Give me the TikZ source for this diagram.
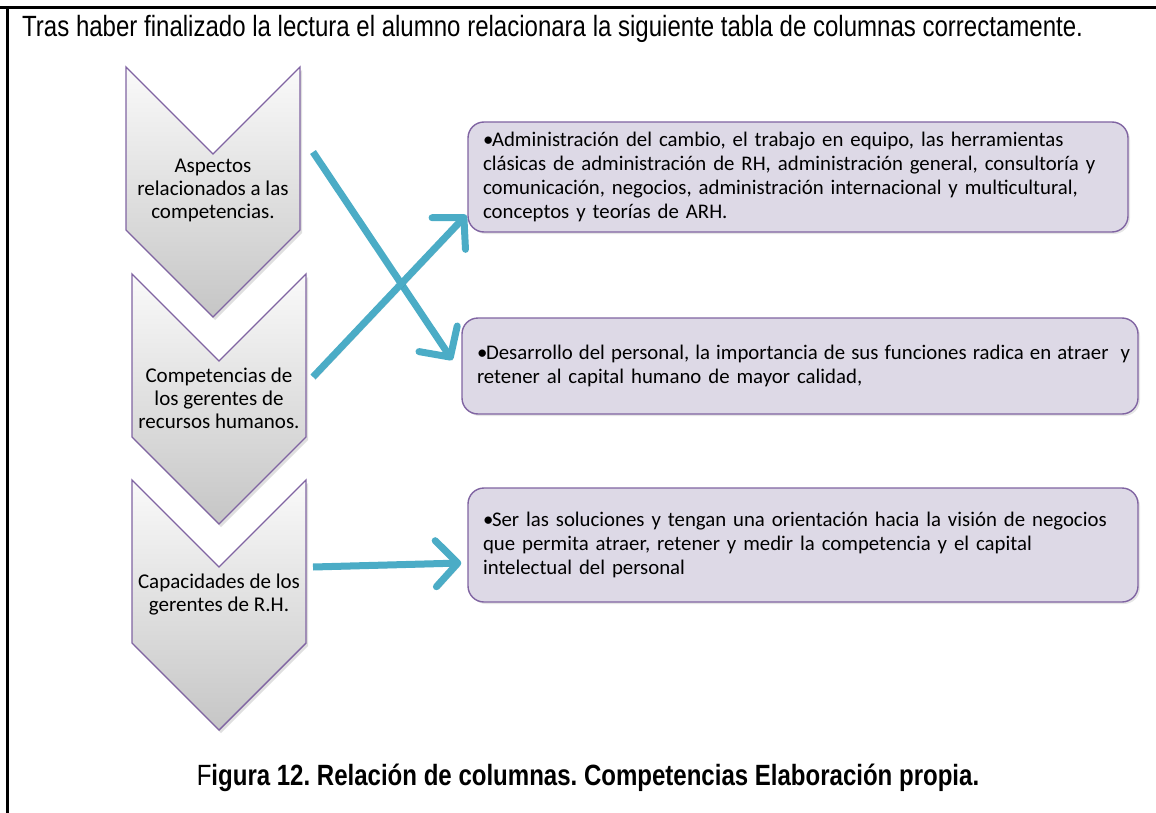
\documentclass[tikz,border=0pt]{standalone}
\usepackage{fontspec}
\setmainfont{Carlito}
\newfontfamily\narrowfont[FakeStretch=0.82]{Liberation Sans}
\usetikzlibrary{positioning}
\usetikzlibrary{calc,shadows}
\usetikzlibrary{arrows.meta}
\definecolor{chevline}{HTML}{8064A2}
\definecolor{boxfill}{HTML}{DDD9E6}
\definecolor{linkcol}{HTML}{4BACC6}
\tikzset{
  chevron/.style={draw=chevline, line width=1.4pt, top color=gray!4, bottom color=gray!45,
    drop shadow={opacity=0.25, shadow xshift=2pt, shadow yshift=-3pt}},
  chevtext/.style={align=center, inner sep=0pt, font=\fontsize{21}{23}\selectfont},
  infobox/.style={draw=chevline, line width=1.4pt, fill=boxfill, rounded corners=16pt,
    align=left, inner xsep=15pt, text width=#1, minimum height=110pt,
    font=\fontsize{20.8}{24}\selectfont,
    drop shadow={opacity=0.2, shadow xshift=2pt, shadow yshift=-2pt}},
  linkarrow/.style={draw=linkcol, line width=7pt, -{Straight Barb[length=22pt,width=46pt,round]},
    preaction={draw=black, opacity=0.15, transform canvas={shift={(2pt,-3pt)}}}}
}
\newcommand{\itembullet}{\hangindent=9pt\hangafter=1\noindent\makebox[9pt][l]{\textbullet}}
\frenchspacing

\begin{document}
\begin{tikzpicture}[x=1pt,y=-1pt]
\useasboundingbox (0,0) rectangle (1156,813);

% ---------------- Frame and title ----------------
\draw[line width=3pt] (0,8) -- (1156,8);
\draw[line width=3pt] (7,8) -- (7,813);
\node[anchor=base west, inner sep=0pt, font=\narrowfont\fontsize{29.3}{32}\selectfont] (title) at (22,37)
  {Tras haber finalizado la lectura el alumno relacionara la siguiente tabla de columnas correctamente.};

% ---------------- Chevrons ----------------
\foreach \l/\t in {126/67, 132/274, 132/480}{
  \draw[chevron] (\l,\t) -- ++(87,87) -- ++(87,-87) -- ++(0,163) -- ++(-87,87) -- ++(-87,-87) -- cycle;
}

\node[chevtext] (c1) at (213,190) {Aspectos\\relacionados a las\\competencias.};
\node[chevtext] (c2) at (219,398) {Competencias de\\los gerentes de\\recursos humanos.};
\node[chevtext] (c3) at (219,595) {Capacidades de los\\gerentes de R.H.};

% ---------------- Boxes ----------------
\node[infobox=630pt] (b1) at (798,177)
  {\itembullet Administración del cambio, el trabajo en equipo, las herramientas\\
   clásicas de administración de RH, administración general, consultoría y\\
   comunicación, negocios, administración internacional y multicultural,\\
   conceptos y teorías de ARH.};
\node[infobox=646pt, minimum height=96pt] (b2) at (800,366)
  {\itembullet \mbox{\spaceskip=6.1pt\relax Desarrollo del personal, la importancia de sus funciones radica en atraer\ \ y}\\
   retener al capital humano de mayor calidad,};
\node[infobox=640pt, minimum height=114pt] (b3) at (803,545)
  {\itembullet Ser las soluciones y tengan una orientación hacia la visión de negocios\\
   que permita atraer, retener y medir la competencia y el capital\\
   intelectual del personal};

% ---------------- Arrows ----------------
\coordinate (c1out) at (313,152);
\coordinate (c2out) at (313,377);
\coordinate (c3out) at (313,567);
\draw[linkarrow] (c1out) -- ([xshift=-9pt,yshift=6pt]b2.west);
\draw[linkarrow] (c2out) -- ([xshift=-1pt,yshift=-38pt]b1.west);
\draw[linkarrow] (c3out) -- ([xshift=-6pt,yshift=-18pt]b3.west);

% ---------------- Caption ----------------
\node[font=\narrowfont\fontsize{29.3}{32}\selectfont\bfseries] (caption) at (588,778)
  {{\mdseries F}igura 12. Relación de columnas. Competencias Elaboración propia.};

\end{tikzpicture}
\end{document}
